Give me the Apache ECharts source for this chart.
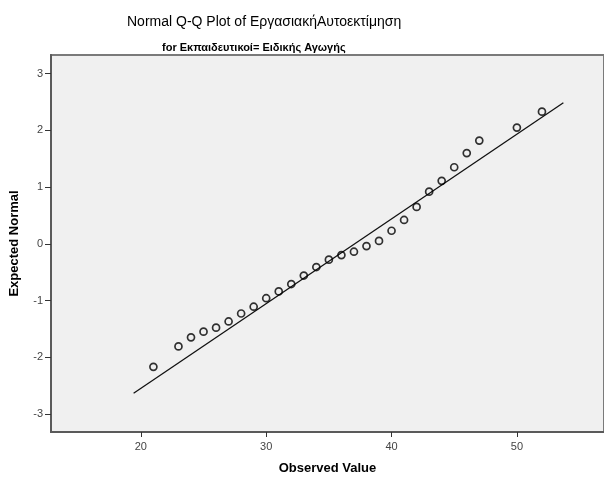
<!DOCTYPE html>
<html>
<head>
<meta charset="utf-8">
<script src="https://cdn.jsdelivr.net/npm/echarts@6/dist/echarts.min.js"></script>
<style>
html,body{margin:0;padding:0;background:#fff;}
#c{width:604px;height:483px;}
</style>
</head>
<body>
<div id="c"></div>
<script>
var titleText = 'Normal Q-Q Plot of ΕργασιακήΑυτοεκτίμηση';
var subtitleText = 'for Εκπαιδευτικοί= Ειδικής Αγωγής';
var xAxisName = 'Observed Value';
var yAxisName = 'Expected Normal';

var observed = [21, 23, 24, 25, 26, 27, 28, 29, 30, 31, 32, 33, 34, 35, 36, 37, 38, 39, 40, 41, 42, 43, 44, 45, 46, 47, 50, 52];
var expected = [-2.17, -1.81, -1.65, -1.55, -1.48, -1.37, -1.23, -1.11, -0.96, -0.84, -0.71, -0.56, -0.41, -0.28, -0.20, -0.14, -0.04, 0.05, 0.23, 0.42, 0.65, 0.92, 1.11, 1.35, 1.60, 1.82, 2.05, 2.33];

var refLineX = [19.42, 53.71];
var refLineY = [-2.635, 2.487];

var xTicks = [20, 30, 40, 50];
var yTicks = [-3, -2, -1, 0, 1, 2, 3];

var pts = observed.map(function (v, i) { return [v, expected[i]]; });
var line = refLineX.map(function (v, i) { return [v, refLineY[i]]; });

var chart = echarts.init(document.getElementById('c'), null, {renderer: 'canvas'});
var fam = '"Liberation Sans", Arial, sans-serif';
chart.setOption({
  backgroundColor: '#ffffff',
  animation: false,
  title: [
    {text: titleText, left: 122, top: 10, textStyle: {fontFamily: fam, fontSize: 14, fontWeight: 'normal', color: '#000'}},
    {text: subtitleText, left: 157, top: 37, textStyle: {fontFamily: fam, fontSize: 11, fontWeight: 'bold', color: '#000'}}
  ],
  grid: {left: 50, top: 55, right: 0, bottom: 51, show: true, backgroundColor: '#f0f0f0', borderColor: '#7a7a7a', borderWidth: 2, containLabel: false},
  xAxis: {
    type: 'value', min: 12.83, max: 56.95,
    name: xAxisName, nameLocation: 'middle', nameGap: 30,
    nameTextStyle: {fontFamily: fam, fontSize: 13, fontWeight: 'bold', color: '#000'},
    axisLine: {show: true, onZero: false, lineStyle: {color: '#5a5a5a', width: 2}},
    axisTick: {show: true, length: 5, customValues: xTicks, lineStyle: {color: '#333', width: 1}},
    axisLabel: {customValues: xTicks, fontFamily: fam, fontSize: 11, color: '#444', margin: 9},
    splitLine: {show: false}
  },
  yAxis: {
    type: 'value', min: -3.32, max: 3.33,
    name: yAxisName, nameLocation: 'middle', nameGap: 30,
    nameTextStyle: {fontFamily: fam, fontSize: 13, fontWeight: 'bold', color: '#000'},
    axisLine: {show: true, onZero: false, lineStyle: {color: '#5a5a5a', width: 2}},
    axisTick: {show: true, length: 6, customValues: yTicks, lineStyle: {color: '#333', width: 1}},
    axisLabel: {customValues: yTicks, fontFamily: fam, fontSize: 11, color: '#444', margin: 8},
    splitLine: {show: false}
  },
  series: [
    {
      type: 'line', data: line, symbol: 'none', silent: true,
      lineStyle: {color: '#111', width: 1.3}, z: 2
    },
    {
      type: 'scatter', data: pts, symbol: 'circle', symbolSize: 7,
      itemStyle: {color: 'rgba(0,0,0,0)', borderColor: '#000', borderWidth: 1.7}, z: 3
    }
  ]
});
</script>
</body>
</html>
